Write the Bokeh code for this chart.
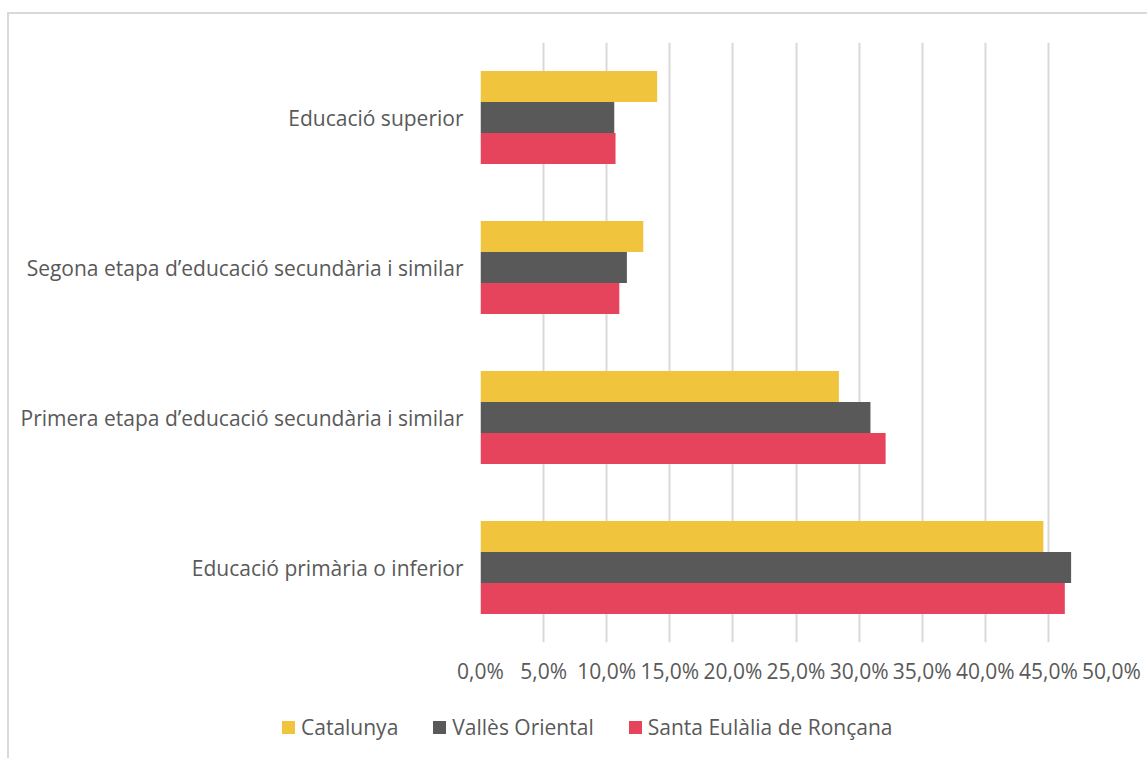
from bokeh.plotting import figure
from bokeh.models import FactorRange, Range1d, FixedTicker, Div
from bokeh.layouts import column
from bokeh.transform import dodge
from bokeh.embed import file_html
from bokeh.resources import INLINE

categories = ["Educació primària o inferior",
              "Primera etapa d’educació secundària i similar",
              "Segona etapa d’educació secundària i similar",
              "Educació superior"]
catalunya = [44.6, 28.4, 12.9, 14.0]
valles = [46.8, 30.9, 11.6, 10.6]
santa = [46.3, 32.1, 11.0, 10.7]
series_names = ["Catalunya", "Vallès Oriental", "Santa Eulàlia de Ronçana"]
tick_values = [0, 5, 10, 15, 20, 25, 30, 35, 40, 45, 50]
tick_labels = ["0,0%", "5,0%", "10,0%", "15,0%", "20,0%", "25,0%", "30,0%", "35,0%", "40,0%", "45,0%", "50,0%"]

colors = ["#F0C43C", "#595959", "#E5445C"]
FONT = "Open Sans"
TXT = "#595959"
FS = "21px"

p = figure(y_range=FactorRange(*categories), x_range=Range1d(0, 50),
           width=1138, height=678, output_backend="svg", toolbar_location=None,
           min_border_left=471, min_border_right=36, min_border_top=28, min_border_bottom=50)

src = dict(cat=categories, cat_v=catalunya, val_v=valles, san_v=santa)
bw = 0.2067
for name, col, off, c in zip(series_names, ["cat_v", "val_v", "san_v"], [bw, 0, -bw], colors):
    p.hbar(y=dodge("cat", off, range=p.y_range), right=col, left=0, height=bw,
           source=src, fill_color=c, line_color=None)

p.xaxis.ticker = FixedTicker(ticks=tick_values)
p.xaxis.major_label_overrides = {v: l for v, l in zip(tick_values, tick_labels)}
for ax in (p.xaxis[0], p.yaxis[0]):
    ax.axis_line_color = None
    ax.major_tick_line_color = None
    ax.minor_tick_line_color = None
    ax.major_tick_out = 0
    ax.major_tick_in = 0
    ax.major_label_text_font = FONT
    ax.major_label_text_font_size = FS
    ax.major_label_text_color = TXT
p.xaxis.major_label_standoff = 14
p.yaxis.major_label_standoff = 17

p.xgrid.grid_line_color = "#D9D9D9"
p.xgrid.grid_line_width = 2
p.ygrid.grid_line_color = None
p.outline_line_color = None

# legend strip below the chart (HTML, real text)
items_html = "".join(
    f'<span style="display:inline-block;width:13px;height:13px;background:{c};margin-right:6px;"></span>'
    f'<span style="margin-right:35px;">{n}</span>'
    for n, c in zip(series_names, colors))
legend_div = Div(
    text=(f'<div style="display:flex;align-items:center;height:60px;padding-left:268px;'
          f'font-family:\'{FONT}\';font-size:{FS};color:{TXT};white-space:nowrap;">{items_html}</div>'),
    width=1138, height=66)

layout = column(p, legend_div, spacing=0)
layout.styles = {"border-top": "2px solid #D9D9D9", "border-left": "2px solid #D9D9D9",
                 "margin-top": "12px", "margin-left": "7px"}

open("out.html", "w").write(file_html(layout, INLINE))
